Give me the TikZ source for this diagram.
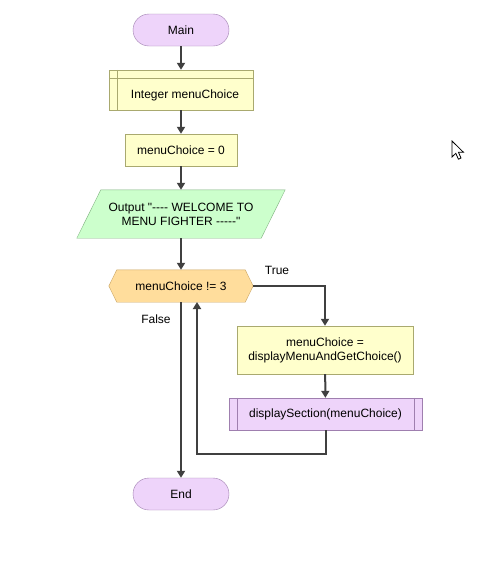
\documentclass[tikz,border=0pt]{standalone}
\usepackage{fontspec}
\setmainfont{Liberation Sans}[Ligatures=TeXOff]
\usetikzlibrary{arrows.meta}
\definecolor{termfill}{HTML}{EED4FA}
\definecolor{termdraw}{HTML}{9F7FAF}
\definecolor{procfill}{HTML}{FFFFCC}
\definecolor{procdraw}{HTML}{A9A96F}
\definecolor{iofill}{HTML}{CCFFCC}
\definecolor{iodraw}{HTML}{80B080}
\definecolor{decfill}{HTML}{FFDD9C}
\definecolor{decdraw}{HTML}{C9A463}
\definecolor{linec}{HTML}{404040}
\tikzset{
  base/.style={font=\fontsize{12}{14}\selectfont, align=center, inner sep=0pt},
  term/.style={base, draw=termdraw, fill=termfill, rounded corners=16pt, minimum width=96pt, minimum height=32pt},
  proc/.style={base, draw=procdraw, fill=procfill},
  callbox/.style={base, draw=termdraw, fill=termfill},
  ghost/.style={base},
  conn/.style={draw=linec, line width=2pt, -{Triangle[length=7pt,width=8pt]}},
  plain/.style={draw=linec, line width=2pt},
  lbl/.style={font=\fontsize{12}{14}\selectfont, inner sep=0pt}
}
\begin{document}
\begin{tikzpicture}[x=1pt,y=-1pt]
\useasboundingbox (0,0) rectangle (479,563);
% Main
\node[term] (main) at (181,30) {Main};
% Integer menuChoice (internal storage)
\node[proc, minimum width=144pt, minimum height=40pt] (decl) at (181,90) {};
\draw[procdraw] ([xshift=8pt]decl.north west) -- ([xshift=8pt]decl.south west);
\draw[procdraw] ([yshift=-8pt]decl.north west) -- ([yshift=-8pt]decl.north east);
\node[lbl] (decltext) at (185,95) {Integer menuChoice};
% menuChoice = 0
\node[proc, minimum width=112pt, minimum height=32pt] (init) at (181,150) {menuChoice = 0};
% Output parallelogram
\node[ghost, minimum width=208pt, minimum height=48pt] (out) at (181,214) {};
\filldraw[draw=iodraw, fill=iofill] ([xshift=24pt]out.north west) -- (out.north east) -- ([xshift=-24pt]out.south east) -- (out.south west) -- cycle;
\node[lbl, align=center] (outtext) at (181,214) {Output "---- WELCOME TO\\MENU FIGHTER -----"};
% Decision hexagon
\node[ghost, minimum width=144pt, minimum height=32pt] (dec) at (181,286) {};
\filldraw[draw=decdraw, fill=decfill] (dec.west) -- ([xshift=8pt]dec.north west) -- ([xshift=-8pt]dec.north east) -- (dec.east) -- ([xshift=-8pt]dec.south east) -- ([xshift=8pt]dec.south west) -- cycle;
\node[lbl] (dectext) at (181,286) {menuChoice != 3};
% Body
\node[proc, minimum width=176pt, minimum height=48pt] (get) at (325,350) {menuChoice =\\displayMenuAndGetChoice()};
\node[callbox, minimum width=193pt, minimum height=32pt] (disp) at (325.5,414) {displaySection(menuChoice)};
\draw[termdraw] ([xshift=8pt]disp.north west) -- ([xshift=8pt]disp.south west);
\draw[termdraw] ([xshift=-8pt]disp.north east) -- ([xshift=-8pt]disp.south east);
% End
\node[term] (end) at (181,494) {End};
% Labels
\node[lbl] (truelbl) at (277,270) {True};
\node[lbl] (falselbl) at (156,319) {False};
% Connectors
\draw[conn] (main) -- (decl);
\draw[conn] (decl) -- (init);
\draw[conn] (init) -- (out);
\draw[conn] (out) -- (dec);
\draw[conn] (dec.east) -| (get.north);
\draw[conn] (get) -- (disp);
\coordinate (loopc) at (197,454);
\coordinate (loopt) at (197,302);
\draw[conn] (disp.south) |- (loopc) -- (loopt);
\draw[conn] (dec.south) -- (end.north);
% Mouse cursor
\begin{scope}[shift={(452,141)}]
\filldraw[draw=black, fill=white, line width=0.8pt, line join=miter]
  (0,0) -- (0,16) -- (3.8,12.3) -- (6.4,18.2) -- (9,17) -- (6.5,11.3) -- (11.5,11.3) -- cycle;
\end{scope}
\end{tikzpicture}
\end{document}
